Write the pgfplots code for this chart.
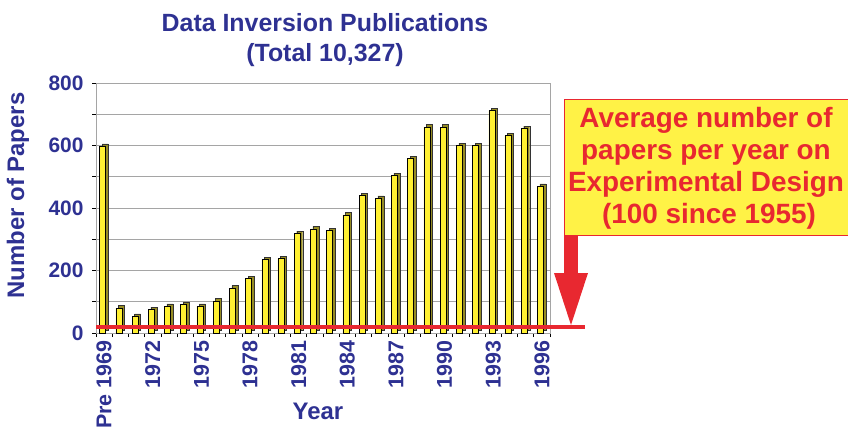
\documentclass[border=0pt]{standalone}
\usepackage{pgfplots}
\pgfplotsset{compat=1.18}
\usepackage{pgfplotstable}
\usepackage{fontspec}
\setmainfont{Liberation Sans}
\definecolor{navy}{RGB}{46,49,146}
\definecolor{redc}{RGB}{232,40,48}
\definecolor{boxyellow}{RGB}{255,242,70}
\definecolor{baryellow}{RGB}{255,240,50}
\definecolor{barside}{RGB}{150,140,35}
\definecolor{gridgray}{RGB}{165,165,165}

\pgfplotstableread{
idx val
0 597
1 80
2 53
3 75
4 85
5 92
6 85
7 103
8 144
9 174
10 235
11 238
12 318
13 333
14 328
15 378
16 440
17 431
18 504
19 558
20 659
21 659
22 600
23 600
24 712
25 632
26 654
27 469
}\papers

\begin{document}
\begin{tikzpicture}[x=1bp,y=1bp]
\useasboundingbox (0,0) rectangle (848,432);
\clip (0,0) rectangle (848,432);
\begin{axis}[
  at={(96bp,99bp)}, anchor=south west,
  scale only axis, width=454bp, height=250bp,
  xmin=-0.5, xmax=27.5, ymin=0, ymax=800,
  clip=false,
  xtick={0,3,...,27},
  xticklabels={Pre 1969,1972,1975,1978,1981,1984,1987,1990,1993,1996},
  minor xtick={-0.5,0.5,...,27.5},
  ytick={0,200,...,800},
  minor ytick={100,300,500,700},
  ymajorgrids, yminorgrids,
  grid style={draw=gridgray, line width=0.8bp},
  minor grid style={draw=gridgray, line width=0.8bp},
  axis line style={draw=gridgray, line width=0.8bp},
  tick align=outside,
  major tick length=4bp, minor tick length=4bp,
  xtick pos=bottom, ytick pos=left,
  every tick/.style={black, line width=0.6bp},
  major x tick style={draw=none},
  /pgf/number format/assume math mode=true,
  x tick label style={rotate=90, anchor=east, font=\fontsize{21.5}{21.5}\selectfont\bfseries, text=navy},
  y tick label style={font=\fontsize{21}{21}\selectfont\bfseries, text=navy, xshift=-5bp},
  ylabel={Number of Papers},
  ylabel style={at={(rel axis cs:-0.172,0.55)}, anchor=center, font=\fontsize{24}{24}\selectfont\bfseries, text=navy},
  xlabel={Year},
  xlabel style={at={(rel axis cs:0.489,-0.347)}, anchor=base, font=\fontsize{24}{24}\selectfont\bfseries, text=navy},
]
\addplot[ybar, bar width=6bp, bar shift=1bp, yshift=2.5bp, fill=barside, draw=black!80, line width=0.35bp] table[x=idx, y=val] {\papers};
\addplot[ybar, bar width=6bp, bar shift=-1.5bp, fill=baryellow, draw=black, line width=0.5bp] table[x=idx, y=val] {\papers};
\addplot[draw=redc, line width=4.5bp, forget plot] coordinates {(-0.5,19) (29.67,19)};
\end{axis}
\node[anchor=base, text=navy, font=\fontsize{25}{25}\selectfont\bfseries] at (325,400.3) {Data Inversion Publications};
\node[anchor=base, text=navy, font=\fontsize{25}{25}\selectfont\bfseries] at (325,370.3) {(Total 10,327)};
\fill[boxyellow] (564,197) rectangle (848,333);
\draw[redc, line width=1bp] (850,333) -- (564,333) -- (564,197) -- (850,197);
\fill[redc] (564,158) rectangle (578,197.5);
\fill[redc] (554,159) -- (588,159) -- (571,107) -- cycle;
\begin{scope}[every node/.style={anchor=base, text=redc, font=\fontsize{28}{28}\selectfont\bfseries}]
\node at (706,304.5) {Average number of};
\node at (706,272.5) {papers per year on};
\node at (706,240.5) {Experimental Design};
\node at (709,208.5) {(100 since 1955)};
\end{scope}
\end{tikzpicture}
\end{document}
